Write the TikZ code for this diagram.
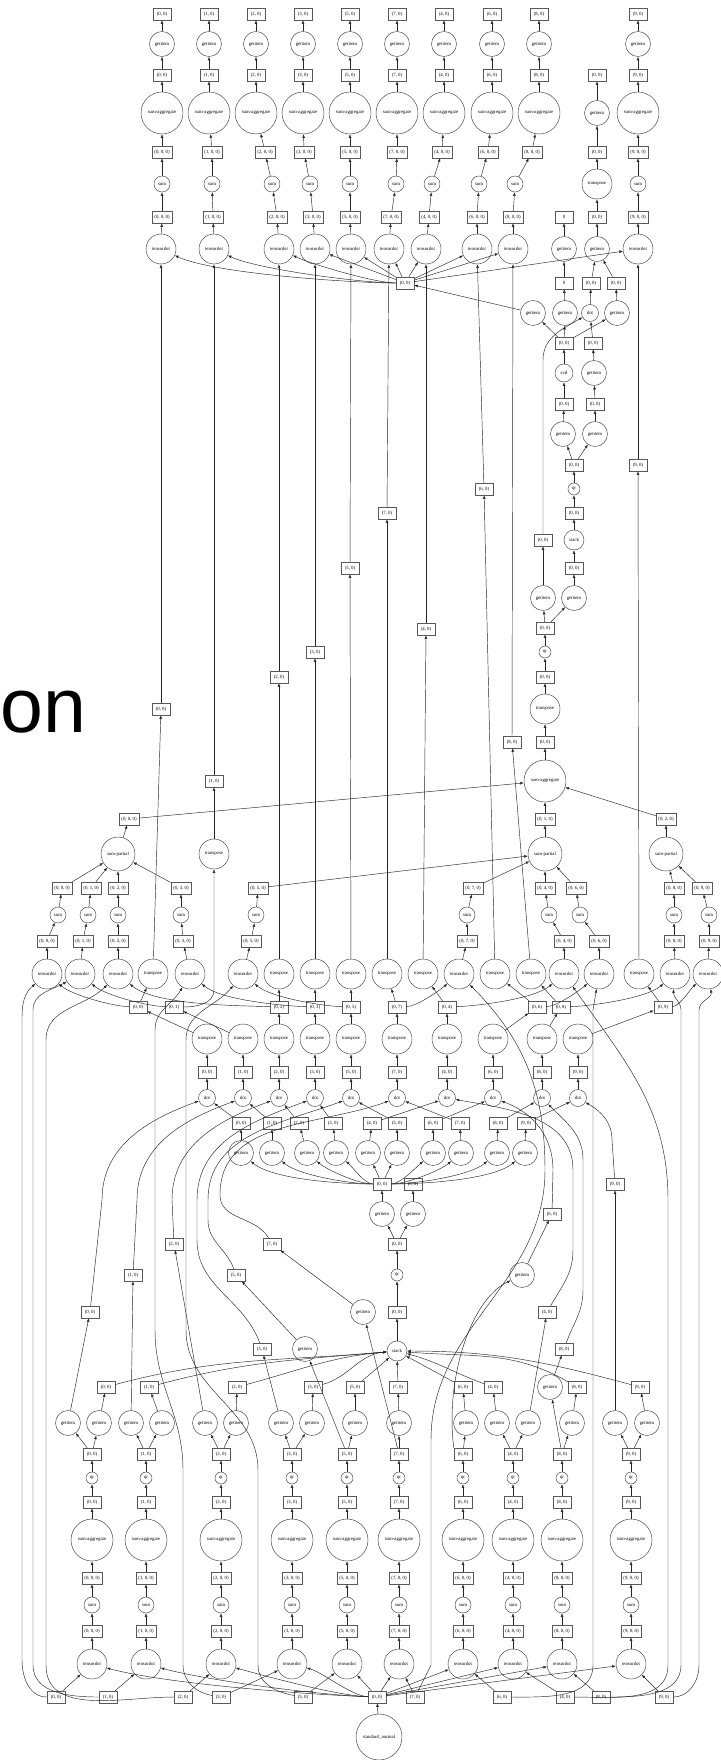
\documentclass[tikz,border=0pt]{standalone}
\usepackage{fontspec}
\setmainfont{Liberation Serif}
\newfontfamily\bigsans{Liberation Sans}
\usetikzlibrary{arrows.meta}
\tikzset{
  boxn/.style={draw=black!65, line width=0.4pt, rectangle, minimum height=12pt, minimum width=18pt, inner xsep=2.6pt, inner ysep=0pt, font=\fontsize{4.8}{5}\selectfont},
  fnode/.style={draw=black!75, line width=0.45pt, circle, inner sep=0pt, minimum size=#1, font=\fontsize{4.8}{5}\selectfont},
  fgi/.style={fnode=25pt},
  fsa/.style={fnode=42pt},
  fsum/.style={fnode=16pt},
  ftd/.style={fnode=30pt},
  ftp/.style={fnode=30pt},
  fdot/.style={fnode=17pt},
  fsvd/.style={fnode=18pt},
  fqr/.style={fnode=12pt},
  fstack/.style={fnode=20pt},
  fsp/.style={fnode=34pt},
  fsn/.style={fnode=46pt},
  ed/.style={draw=black!85, line width=0.45pt, -{Latex[length=3.6pt,width=2.8pt]}},
}
\begin{document}
\begin{tikzpicture}[x=1pt,y=-1pt]
\useasboundingbox (0,0) rectangle (720,1760);
\fill[white] (0,0) rectangle (720,1760);
\node[anchor=base west, font=\bigsans\fontsize{77}{77}\selectfont, inner sep=0pt] (ontext) at (0,732) {on};

% ---------- top columns ----------
\foreach \k/\a/\b/\c/\d/\e in {0/162/162/162/162/161, 1/209/212/212/213/214, 2/256/265/272/277/279, 3/303/304/310/313/315, 5/350/350/350/350/351, 7/397/397/396/391/389, 4/444/442/432/429/426, 6/492/488/479/477/477, 8/539/532/515/513/513, 9/638/638/638/638/638}{
  \node[boxn] (to\k) at (\a,14) {(\k, 0)};
  \node[fgi] (tg\k) at (\a,44) {getitem};
  \node[boxn] (tb\k) at (\a,75) {(\k, 0)};
  \node[fsa] (ts\k) at (\a,113) {sum-aggregate};
  \node[boxn] (tc\k) at (\b,152) {(\k, 0, 0)};
  \node[fsum] (tu\k) at (\c,184) {sum};
  \node[boxn] (te\k) at (\d,217) {(\k, 0, 0)};
  \node[ftd] (tt\k) at (\e,249) {tensordot};
  \draw[ed] (tg\k) -- (to\k);
  \draw[ed] (tb\k) -- (tg\k);
  \draw[ed] (ts\k) -- (tb\k);
  \draw[ed] (tc\k) -- (ts\k);
  \draw[ed] (tu\k) -- (tc\k);
  \draw[ed] (te\k) -- (tu\k);
  \draw[ed] (tt\k) -- (te\k);
}
\node[boxn] (h1) at (405,283) {(0, 0)};
\foreach \k in {0,1,2}{\draw[ed] (h1) to[out=180,in=-25,looseness=0.5] (tt\k);}
\foreach \k in {3,5,7,4,6,8,9}{\draw[ed] (h1) -- (tt\k);}

% ---------- top right ----------
\node[boxn] (r0out) at (564,217) {0};
\node[fgi] (r0gi) at (564,249) {getitem};
\node[boxn] (r0b) at (564,283) {0};
\node[fgi] (r1gi) at (565,313) {getitem};
\node[boxn] (r1out) at (597,75) {(0, 0)};
\node[fgi] (r2gi) at (597,113) {getitem};
\node[boxn] (r4b) at (597,152) {(0, 0)};
\node[ftp] (rtp) at (597,184) {transpose};
\node[boxn] (r5b) at (597,217) {(0, 0)};
\node[fgi] (r3gi) at (597,249) {getitem};
\node[boxn] (r6b) at (591,283) {(0, 0)};
\node[boxn] (r7b) at (616,283) {(0, 0)};
\node[fdot] (rdot) at (590,313) {dot};
\node[fgi] (r4gi) at (617,313) {getitem};
\node[fgi] (g533) at (533,313) {getitem};
\node[boxn] (ra) at (564,343) {(0, 0)};
\node[boxn] (rbb) at (593,343) {(0, 0)};
\node[fsvd] (rsvd) at (564,373) {svd};
\node[fgi] (r5gi) at (594,373) {getitem};
\node[boxn] (r8b) at (564,404) {(0, 0)};
\node[boxn] (r9b) at (595,404) {(0, 0)};
\node[fgi] (r6gi) at (563,434) {getitem};
\node[fgi] (r7gi) at (595,434) {getitem};
\node[boxn] (r10b) at (574,465) {(0, 0)};
\node[fqr] (rqr) at (574,489) {qr};
\node[boxn] (r11b) at (574,513) {(0, 0)};
\node[fstack] (rstk) at (574,540) {stack};
\node[boxn] (r12b) at (574,568) {(0, 0)};
\node[fgi] (rgi8) at (574,598) {getitem};
\node[boxn] (lb) at (543,540) {(0, 0)};
\node[fgi] (lgi) at (543,598) {getitem};
\node[boxn] (mc1) at (545,628) {(0, 0)};
\node[fqr] (mqr) at (545,652) {qr};
\node[boxn] (mc2) at (545,677) {(0, 0)};
\node[ftp] (mtp) at (545,709) {transpose};
\node[boxn] (mc3) at (545,742) {(0, 0)};
\node[fsa] (msa) at (545,781) {sum-aggregate};
\node[boxn] (c000) at (129,819) {(0, 0, 0)};
\node[boxn] (c010) at (545,819) {(0, 1, 0)};
\node[boxn] (c020) at (666,819) {(0, 2, 0)};
\node[fsp] (sp0) at (118,854) {sum-partial};
\node[fsp] (sp1) at (545,854) {sum-partial};
\node[fsp] (sp2) at (666,854) {sum-partial};

\draw[ed] (r0gi) -- (r0out);
\draw[ed] (r0b) -- (r0gi);
\draw[ed] (r1gi) -- (r0b);
\draw[ed] (ra) -- (r1gi);
\draw[ed] (ra) -- (g533);
\draw[ed] (ra) -- (r4gi);
\draw[ed] (g533) -- (h1);
\draw[ed] (rbb) -- (rdot);
\draw[ed] (rdot) -- (r6b);
\draw[ed] (r4gi) -- (r7b);
\draw[ed] (r6b) -- (r3gi);
\draw[ed] (r7b) -- (r3gi);
\draw[ed] (r3gi) -- (r5b);
\draw[ed] (r5b) -- (rtp);
\draw[ed] (rtp) -- (r4b);
\draw[ed] (r4b) -- (r2gi);
\draw[ed] (r2gi) -- (r1out);
\draw[ed] (rsvd) -- (ra);
\draw[ed] (r5gi) -- (rbb);
\draw[ed] (r8b) -- (rsvd);
\draw[ed] (r9b) -- (r5gi);
\draw[ed] (r6gi) -- (r8b);
\draw[ed] (r7gi) -- (r9b);
\draw[ed] (r10b) -- (r6gi);
\draw[ed] (r10b) -- (r7gi);
\draw[ed] (rqr) -- (r10b);
\draw[ed] (r11b) -- (rqr);
\draw[ed] (rstk) -- (r11b);
\draw[ed] (r12b) -- (rstk);
\draw[ed] (rgi8) -- (r12b);
\draw[ed] (lgi) -- (lb);
\draw[ed] (lb) -- (543,360) to[out=90,in=-150] (rdot);
\draw[ed] (mc1) -- (lgi);
\draw[ed] (mc1) -- (rgi8);
\draw[ed] (mqr) -- (mc1);
\draw[ed] (mc2) -- (mqr);
\draw[ed] (mtp) -- (mc2);
\draw[ed] (mc3) -- (mtp);
\draw[ed] (msa) -- (mc3);
\draw[ed] (c000) -- (msa);
\draw[ed] (c010) -- (msa);
\draw[ed] (c020) -- (msa);
\draw[ed] (sp0) -- (c000);
\draw[ed] (sp1) -- (c010);
\draw[ed] (sp2) -- (c020);

% ---------- long V boxes ----------
\foreach \k/\x/\y in {0/161/709, 1/214/781, 2/279/677, 3/315/652, 5/350/568, 7/387/513, 4/426/629, 6/484/489, 8/512/742, 9/638/465}{
  \node[boxn] (v\k) at (\x,\y) {(\k, 0)};
  \draw[ed] (v\k) -- (tt\k);
}
\foreach \k/\x in {0/153, 2/279, 3/315, 5/351, 7/387, 4/423, 6/495, 8/531, 9/639}{
  \node[ftp] (tp\k) at (\x,974) {transpose};
}
\node[ftp] (tp1) at (214,854) {transpose};
\foreach \k in {0,1,2,3,4,5,6,7,8,9}{\draw[ed] (tp\k) -- (v\k);}

% ---------- middle sums ----------
\foreach \k/\a/\b/\c/\d in {0/47/47/58/62, 1/80/83/88/91, 2/118/118/118/118, 3/190/183/181/181, 5/243/251/256/258, 7/459/467/467/473, 4/564/564/549/545, 6/599/599/580/576, 8/675/674/674/674, 9/708/709/709/702}{
  \node[ftd] (m\k) at (\a,974) {tensordot};
  \node[boxn] (ma\k) at (\b,941) {(0, \k, 0)};
  \node[fsum] (ms\k) at (\c,915) {sum};
  \node[boxn] (mb\k) at (\d,888) {(0, \k, 0)};
  \draw[ed] (m\k) -- (ma\k);
  \draw[ed] (ma\k) -- (ms\k);
  \draw[ed] (ms\k) -- (mb\k);
}
\foreach \k in {0,1,2,3}{\draw[ed] (mb\k) -- (sp0);}
\foreach \k in {5,7,4,6}{\draw[ed] (mb\k) -- (sp1);}
\foreach \k in {8,9}{\draw[ed] (mb\k) -- (sp2);}

% ---------- Q rows ----------
\foreach \k/\x/\px/\ex/\fx in {0/207/138/241/241, 1/243/174/272/272, 2/279/279/299/307, 3/315/315/333/336, 5/351/351/397/397, 7/397/397/460/461, 4/447/447/372/368, 6/493/537/433/433, 8/542/561/498/497, 9/578/663/526/525}{
  \node[boxn] (p\k) at (\px,1007) {(0, \k)};
  \node[ftp] (q\k) at (\x,1039) {transpose};
  \node[boxn] (d\k) at (\x,1072) {(\k, 0)};
  \node[fdot] (dt\k) at (\x,1098) {dot};
  \node[boxn] (e\k) at (\ex,1123) {(\k, 0)};
  \node[fgi] (f\k) at (\fx,1153) {getitem};
  \draw[ed] (q\k) -- (p\k);
  \draw[ed] (d\k) -- (q\k);
  \draw[ed] (dt\k) -- (d\k);
  \draw[ed] (e\k) -- (dt\k);
  \draw[ed] (f\k) -- (e\k);
}
\draw[ed] (p0) -- (tp0);
\draw[ed] (p1.east) to[out=0,in=-90] (214,990) -- (tp1);
\foreach \k in {2,3,5,7,4,6,8,9}{\draw[ed] (p\k) -- (tp\k);}
\foreach \k in {0,1,2,3,5}{\draw[ed] (p\k) to[out=178,in=-40,looseness=0.6] (m\k);}
\foreach \k in {7,4,6,8,9}{\draw[ed] (p\k) to[out=2,in=-140,looseness=0.6] (m\k);}

% ---------- second-level qr ----------
\node[boxn] (h2) at (382,1184) {(0, 0)};
\node[boxn] (h3) at (413,1184) {(0, 0)};
\node[fgi] (g1) at (382,1214) {getitem};
\node[fgi] (g2) at (413,1214) {getitem};
\node[boxn] (s3) at (397,1244) {(0, 0)};
\node[fqr] (s2) at (397,1275) {qr};
\node[boxn] (s1) at (397,1312) {(0, 0)};
\node[fstack] (stk) at (397,1351) {stack};
\draw[ed] (stk) -- (s1);
\draw[ed] (s1) -- (s2);
\draw[ed] (s2) -- (s3);
\draw[ed] (s3) -- (g1);
\draw[ed] (s3) -- (g2);
\draw[ed] (g1) -- (h2);
\draw[ed] (g2) -- (h3);
\foreach \k in {0,1,2,3}{\draw[ed] (h2) to[out=180,in=-40,looseness=0.6] (f\k);}
\draw[ed] (h2) -- (f4);
\draw[ed] (h2) -- (f5);
\foreach \k in {6,7,8,9}{\draw[ed] (h2) to[out=0,in=-140,looseness=0.6] (f\k);}

% ---------- bottom columns ----------
\node[boxn] (h0) at (377,1697) {(0, 0)};
\node[fsn] (sn) at (379,1737) {standard\_normal};
\draw[ed] (sn) -- (h0);
\foreach \k/\x/\ax/\qgx/\qgy/\rgx/\rbx/\qbx/\qby in {0/92/56/68/1423/99/106/90/1312, 1/146/108/131/1423/162/149/133/1275, 2/221/183/205/1423/236/237/174/1244, 3/292/221/281/1423/312/313/262/1349, 5/347/303/305/1349/355/355/236/1275, 7/399/415/363/1312/399/398/272/1244, 6/463/502/522/1275/466/463/552/1214, 4/513/565/528/1423/497/493/547/1312, 8/562/601/550/1387/572/577/564/1349, 9/631/664/615/1423/647/640/615/1184}{
  \node[boxn] (bk\k) at (\x,1454) {(\k, 0)};
  \node[fqr] (bq\k) at (\x,1478) {qr};
  \node[boxn] (bb\k) at (\x,1502) {(\k, 0)};
  \node[fsa] (bs\k) at (\x,1540) {sum-aggregate};
  \node[boxn] (bc\k) at (\x,1578) {(\k, 0, 0)};
  \node[fsum] (bu\k) at (\x,1605) {sum};
  \node[boxn] (be\k) at (\x,1631) {(\k, 0, 0)};
  \node[ftd] (bt\k) at (\x,1664) {tensordot};
  \node[boxn] (a\k) at (\ax,1697) {(\k, 0)};
  \node[fgi] (qg\k) at (\qgx,\qgy) {getitem};
  \node[fgi] (rg\k) at (\rgx,1423) {getitem};
  \node[boxn] (rb\k) at (\rbx,1387) {(\k, 0)};
  \node[boxn] (qb\k) at (\qbx,\qby) {(\k, 0)};
  \draw[ed] (bt\k) -- (be\k);
  \draw[ed] (be\k) -- (bu\k);
  \draw[ed] (bu\k) -- (bc\k);
  \draw[ed] (bc\k) -- (bs\k);
  \draw[ed] (bs\k) -- (bb\k);
  \draw[ed] (bb\k) -- (bq\k);
  \draw[ed] (bq\k) -- (bk\k);
  \draw[ed] (bk\k) -- (rg\k);
  \draw[ed] (rg\k) -- (rb\k);
  \draw[ed] (qg\k) -- (qb\k);
  \draw[ed] (a\k) -- (bt\k);
}
\foreach \k in {0,1,2,3,5,7,4,8,9}{\draw[ed] (bk\k) -- (qg\k);}
\draw[ed] (bk6.north west) .. controls (445,1380) and (470,1300) .. (qg6);
% hub to bottom tensordots
\foreach \k in {0,1,2,3}{\draw[ed] (h0) to[out=178,in=-15,looseness=0.6] (bt\k);}
\foreach \k in {5,7,6,4,8,9}{\draw[ed] (h0) -- (bt\k);}
% R blocks to stack
\foreach \k in {0,1,2,3}{\draw[ed] (rb\k) to[out=15,in=185] (stk);}
\draw[ed] (rb5) -- (stk);
\draw[ed] (rb7) -- (stk);
\draw[ed] (rb6) -- (stk);
\draw[ed] (rb4) to[out=160,in=-15] (stk);
\draw[ed] (rb8) to[out=150,in=-5] (stk);
\draw[ed] (rb9) to[out=165,in=0] (stk);
% Q blocks to dots
\draw[ed] (qb0) -- (102,1200) to[out=90,in=200] (dt0);
\draw[ed] (qb1) -- (137,1200) to[out=90,in=200] (dt1);
\draw[ed] (qb2) -- (172,1200) to[out=90,in=200] (dt2);
\draw[ed] (qb3) to[out=110,in=-90] (197,1240) -- (197,1200) to[out=90,in=200] (dt3);
\draw[ed] (qb5) to[out=110,in=-90] (208,1220) -- (208,1200) to[out=90,in=200] (dt5);
\draw[ed] (qb7) to[out=120,in=-90] (220,1195) to[out=90,in=200] (dt7);
\draw[ed] (qb6) -- (553,1170) to[out=90,in=-20] (dt6);
\draw[ed] (qb4) to[out=60,in=-90] (573,1250) -- (573,1170) to[out=90,in=-10] (dt4);
\draw[ed] (qb8) to[out=70,in=-90] (583,1290) -- (583,1160) to[out=90,in=-45] (dt8);
\draw[ed] (qb9) -- (612,1140) to[out=90,in=-30] (dt9);
% A blocks to middle tensordots
\draw[ed] (a0) to[out=180,in=-90] (22,1660) -- (22,1030) to[out=90,in=-140] (m0);
\draw[ed] (a1) to[out=180,in=-90] (33,1665) -- (33,1010) to[out=90,in=-150] (m1);
\draw[ed] (a2) to[out=180,in=-90] (46,1665) -- (46,1040) to[out=90,in=-135] (m2);
\draw[ed] (a3) to[out=170,in=-90] (183,1665) -- (183,1470) to[out=90,in=-90] (155,1330) -- (155,1030) to[out=90,in=-120] (m3);
\draw[ed] (a5) to[out=170,in=-90] (258,1665) -- (258,1470) to[out=90,in=-90] (186,1330) -- (186,1040) to[out=90,in=-130] (m5);
\draw[ed] (a7) -- (431,1665) -- (431,1440) to[out=90,in=-90] (545,1170) to[out=90,in=-45] (m7);
\draw[ed] (a6) to[out=0,in=-90] (593,1665) -- (593,1010) -- (m6);
\draw[ed] (a4) to[out=0,in=-90] (668,1665) -- (668,1200) to[out=90,in=-55] (m4);
\draw[ed] (a8) to[out=0,in=-90] (681,1665) -- (681,1010) to[out=90,in=-95] (m8);
\draw[ed] (a9) to[out=0,in=-90] (699,1665) -- (699,1010) to[out=90,in=-80] (m9);
\end{tikzpicture}
\end{document}
